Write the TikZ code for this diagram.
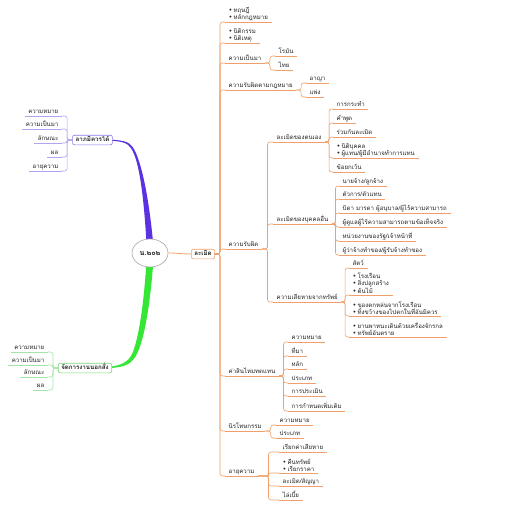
\documentclass[tikz,border=0pt]{standalone}
\usepackage{fontspec}
\setmainfont[Script=Thai]{Loma}
\newfontfamily\dvfont{DejaVu Sans}
\usetikzlibrary{shapes.geometric,calc}
\definecolor{ora}{HTML}{F0A06A}
\definecolor{pur}{HTML}{5A32E2}
\definecolor{purl}{HTML}{B4A4F0}
\definecolor{purb}{HTML}{8A78E8}
\definecolor{grn}{HTML}{35E635}
\definecolor{grnl}{HTML}{A4E4A4}
\definecolor{grnb}{HTML}{7CD87C}
\definecolor{txt}{HTML}{222222}
\newcommand{\bu}{{\dvfont\fontsize{6.5}{6.5}\selectfont •}\,}
\newcommand{\con}[3]{\draw[brk,#3] (#1) -- ($(#1)!.5!(#2 |- #1)$) |- (#2);}
\tikzset{
  base/.style={font=\fontsize{6.1}{7}\selectfont, text=txt, inner xsep=3.5pt, inner ysep=1.2pt, align=left},
  one/.style={text height=4.6pt, text depth=1.4pt},
  rleaf/.style={base, anchor=south west, append after command={(\tikzlastnode.south west) edge[ora, line width=.6pt] (\tikzlastnode.south east)}},
  pleaf/.style={base, one, anchor=south east, append after command={(\tikzlastnode.south west) edge[purl, line width=.6pt] (\tikzlastnode.south east)}},
  gleaf/.style={base, one, anchor=south east, append after command={(\tikzlastnode.south west) edge[grnl, line width=.6pt] (\tikzlastnode.south east)}},
  brk/.style={line width=.6pt, rounded corners=2.5pt},
  tbox/.style={font=\fontsize{6.2}{7}\selectfont\bfseries, text=txt, fill=white, rounded corners=2pt, line width=.6pt, inner xsep=3pt, inner ysep=1.8pt, text height=4.6pt, text depth=1.4pt},
  cent/.style={ellipse, draw=gray!70, fill=white, line width=.6pt, minimum width=36pt, minimum height=28pt, inner sep=0pt, font=\fontsize{7.2}{8}\selectfont\bfseries, text=txt}
}
\begin{document}
\begin{tikzpicture}[x=1pt,y=-1pt]
\path[use as bounding box] (0,0) rectangle (509,509);
\fill[white] (0,0) rectangle (509,509);
% thick branches
\fill[pur] (147,252) .. controls (144,195) and (139,160) .. (131.2,148.5) .. controls (127.5,142.8) and (123,140.5) .. (100,140.5) -- (100,139.5) .. controls (123.5,139.5) and (129,141.5) .. (133,147.5) .. controls (141,160) and (149,195) .. (154,252) -- cycle;
\fill[grn] (147,252) .. controls (144.5,300) and (139,338) .. (132.3,353.5) .. controls (128,362.5) and (121,367.5) .. (95,367.5) -- (95,368.5) .. controls (123,368.5) and (130,365.5) .. (135.5,356.5) .. controls (144.5,342) and (151,300) .. (154,252) -- cycle;
% main nodes
\node[cent] (c) at (150,253) {น.๒๐๒};
\node[tbox, draw=purb] (lb) at (92.5,140) {ลาภมิควรได้};
\node[tbox, draw=grnb] (jb) at (85,368) {จัดการงานนอกสั่ง};
\node[tbox, draw=ora] (lm) at (203,254) {ละเมิด};
\draw[ora, line width=.8pt] (c.east) to[out=0,in=180] (lm.west);
% left purple
\node[pleaf] (p1) at (62,116) {ความหมาย};
\node[pleaf] (p2) at (62,129) {ความเป็นมา};
\node[pleaf] (p3) at (62,143) {ลักษณะ};
\node[pleaf] (p4) at (62,157) {ผล};
\node[pleaf] (p5) at (62,171) {อายุความ};
\foreach \n in {p1,p2,p3,p4,p5} {\con{lb.west}{\n.south east}{purl}}
% left green
\node[gleaf] (g1) at (48,352) {ความหมาย};
\node[gleaf] (g2) at (48,365) {ความเป็นมา};
\node[gleaf] (g3) at (48,377) {ลักษณะ};
\node[gleaf] (g4) at (48,390) {ผล};
\foreach \n in {g1,g2,g3,g4} {\con{jb.west}{\n.south east}{grnl}}
% right level A
\node[rleaf] (A1) at (225,22) {\bu ทฤษฎี\\\bu หลักกฎหมาย};
\node[rleaf] (A2) at (225,43) {\bu นิติกรรม\\\bu นิติเหตุ};
\node[rleaf,one] (A3) at (225,63) {ความเป็นมา};
\node[rleaf,one] (A4) at (225,90) {ความรับผิดตามกฎหมาย};
\node[rleaf,one] (A5) at (225,249) {ความรับผิด};
\node[rleaf,one] (A6) at (225,376) {ค่าสินไหมทดแทน};
\node[rleaf,one] (A7) at (225,431) {นิรโทษกรรม};
\node[rleaf,one] (A8) at (225,476) {อายุความ};
\foreach \n in {A1,A2,A3,A4,A5,A6,A7,A8} {\con{lm.east}{\n.south west}{ora}}
% A3
\node[rleaf,one] (A3a) at (275,56) {โรมัน};
\node[rleaf,one] (A3b) at (275,70) {ไทย};
\foreach \n in {A3a,A3b} {\con{A3.south east}{\n.south west}{ora}}
% A4
\node[rleaf,one] (A4a) at (306,83) {อาญา};
\node[rleaf,one] (A4b) at (306,97) {แพ่ง};
\foreach \n in {A4a,A4b} {\con{A4.south east}{\n.south west}{ora}}
% A5
\node[rleaf,one] (B1) at (273,142) {ละเมิดของตนเอง};
\node[rleaf,one] (B2) at (273,224) {ละเมิดของบุคคลอื่น};
\node[rleaf,one] (B3) at (273,302) {ความเสียหายจากทรัพย์};
\foreach \n in {B1,B2,B3} {\con{A5.south east}{\n.south west}{ora}}
% B1
\node[rleaf,one] (C1) at (333,109) {การกระทำ};
\node[rleaf,one] (C2) at (333,123) {คำพูด};
\node[rleaf,one] (C3) at (333,137) {ร่วมกันละเมิด};
\node[rleaf] (C4) at (333,158) {\bu นิติบุคคล\\\bu ผู้แทน/ผู้มีอำนาจทำการแทน};
\node[rleaf,one] (C5) at (333,172) {ข้อยกเว้น};
\foreach \n in {C1,C2,C3,C4,C5} {\con{B1.south east}{\n.south west}{ora}}
% B2
\node[rleaf,one] (D1) at (339,186) {นายจ้าง/ลูกจ้าง};
\node[rleaf,one] (D2) at (339,199) {ตัวการ/ตัวแทน};
\node[rleaf,one] (D3) at (339,213) {บิดา มารดา ผู้อนุบาล/ผู้ไร้ความสามารถ};
\node[rleaf,one] (D4) at (339,227) {ผู้ดูแลผู้ไร้ความสามารถตามข้อเท็จจริง};
\node[rleaf,one] (D5) at (339,241) {หน่วยงานของรัฐ/เจ้าหน้าที่};
\node[rleaf,one] (D6) at (339,255) {ผู้ว่าจ้างทำของ/ผู้รับจ้างทำของ};
\foreach \n in {D1,D2,D3,D4,D5,D6} {\con{B2.south east}{\n.south west}{ora}}
% B3
\node[rleaf,one] (E1) at (349,268) {สัตว์};
\node[rleaf] (E2) at (349,295) {\bu โรงเรือน\\\bu สิ่งปลูกสร้าง\\\bu ต้นไม้};
\node[rleaf] (E3) at (349,316) {\bu ของตกหล่นจากโรงเรือน\\\bu ทิ้งขว้างของไปตกในที่อันมิควร};
\node[rleaf] (E4) at (349,337) {\bu ยานพาหนะเดินด้วยเครื่องจักรกล\\\bu ทรัพย์อันตราย};
\foreach \n in {E1,E2,E3,E4} {\con{B3.south east}{\n.south west}{ora}}
% A6
\node[rleaf,one] (F1) at (288,342) {ความหมาย};
\node[rleaf,one] (F2) at (288,356) {ที่มา};
\node[rleaf,one] (F3) at (288,369) {หลัก};
\node[rleaf,one] (F4) at (288,383) {ประเภท};
\node[rleaf,one] (F5) at (288,396) {การประเมิน};
\node[rleaf,one] (F6) at (288,411) {การกำหนดเพิ่มเติม};
\foreach \n in {F1,F2,F3,F4,F5,F6} {\con{A6.south east}{\n.south west}{ora}}
% A7
\node[rleaf,one] (G1) at (276,425) {ความหมาย};
\node[rleaf,one] (G2) at (276,438) {ประเภท};
\foreach \n in {G1,G2} {\con{A7.south east}{\n.south west}{ora}}
% A8
\node[rleaf,one] (H1) at (279,452) {เรียกค่าเสียหาย};
\node[rleaf] (H2) at (279,473) {\bu คืนทรัพย์\\\bu เรียกราคา};
\node[rleaf,one] (H3) at (279,486) {ละเมิด/สัญญา};
\node[rleaf,one] (H4) at (279,500) {ไล่เบี้ย};
\foreach \n in {H1,H2,H3,H4} {\con{A8.south east}{\n.south west}{ora}}
\end{tikzpicture}
\end{document}
